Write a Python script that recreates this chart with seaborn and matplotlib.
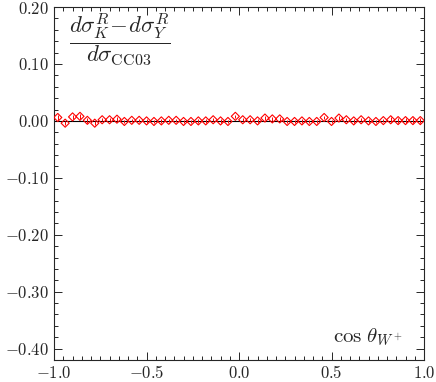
import matplotlib
matplotlib.use("Agg")
import matplotlib.pyplot as plt
from matplotlib.ticker import MultipleLocator, FuncFormatter
import seaborn as sns
import numpy as np
import pandas as pd

# bin centres in cos(theta_W+) and the relative difference in each bin
cos_theta = [-0.98 + 0.04 * i for i in range(50)]
rel_diff = [0.006, -0.004, 0.007, 0.008, 0.001, -0.004, 0.002, 0.002, 0.003, -0.001,
            0.001, 0.001, 0.000, -0.001, 0.000, 0.001, 0.001, -0.001, -0.001, 0.000,
            0.000, 0.002, 0.000, -0.001, 0.008, 0.002, 0.002, 0.000, 0.005, 0.0035,
            0.0035, -0.001, -0.001, 0.000, -0.001, -0.001, 0.006, -0.001, 0.005, 0.002,
            0.000, 0.002, 0.000, -0.001, 0.0005, 0.002, 0.0005, 0.0005, 0.0005, 0.0005]
rel_err = [0.004] * 5 + [0.003] * 40 + [0.004] * 5

df = pd.DataFrame({"x": cos_theta, "y": rel_diff, "err": rel_err})

sns.set_style("ticks")
plt.rcParams["mathtext.fontset"] = "cm"
plt.rcParams["font.family"] = ["DejaVu Serif"]

fig = plt.figure(figsize=(4.36, 3.82), dpi=100)
ax = fig.add_axes([0.124, 0.0576, 0.8485, 0.924])

ax.axhline(0.0, color="black", lw=0.8, zorder=1)
ax.errorbar(df["x"], df["y"], yerr=df["err"], fmt="none", ecolor="red", elinewidth=0.7, zorder=2)
sns.scatterplot(data=df, x="x", y="y", ax=ax, marker="D", s=17, facecolors="none",
                edgecolor="red", linewidth=0.8, zorder=3)

ax.set_xlim(-1.0, 1.0)
ax.set_ylim(-0.42, 0.20)
ax.set_xlabel("")
ax.set_ylabel("")

ax.xaxis.set_major_locator(MultipleLocator(0.5))
ax.xaxis.set_minor_locator(MultipleLocator(0.05))
ax.yaxis.set_major_locator(MultipleLocator(0.1))
ax.yaxis.set_minor_locator(MultipleLocator(0.02))
fmt_x = FuncFormatter(lambda v, p: r"$%.1f$" % (0.0 if abs(v) < 1e-9 else v))
fmt_y = FuncFormatter(lambda v, p: r"$%.2f$" % (0.0 if abs(v) < 1e-9 else v))
ax.xaxis.set_major_formatter(fmt_x)
ax.yaxis.set_major_formatter(fmt_y)
ax.tick_params(which="both", direction="in", top=True, right=True, labelsize=12, width=0.7)
ax.tick_params(which="major", length=6)
ax.tick_params(which="minor", length=3)
for sp in ax.spines.values():
    sp.set_linewidth(0.8)

ax.text(0.04, 0.985, r"$\dfrac{d\sigma^R_K\!-\!d\sigma^R_Y}{d\sigma_{\rm CC03}}$",
        transform=ax.transAxes, fontsize=16.5, ha="left", va="top")
ax.text(0.945, 0.035, r"$\cos\,\theta_{W^+}$", transform=ax.transAxes,
        fontsize=15, ha="right", va="bottom")

fig.savefig("out.png", dpi=100)
